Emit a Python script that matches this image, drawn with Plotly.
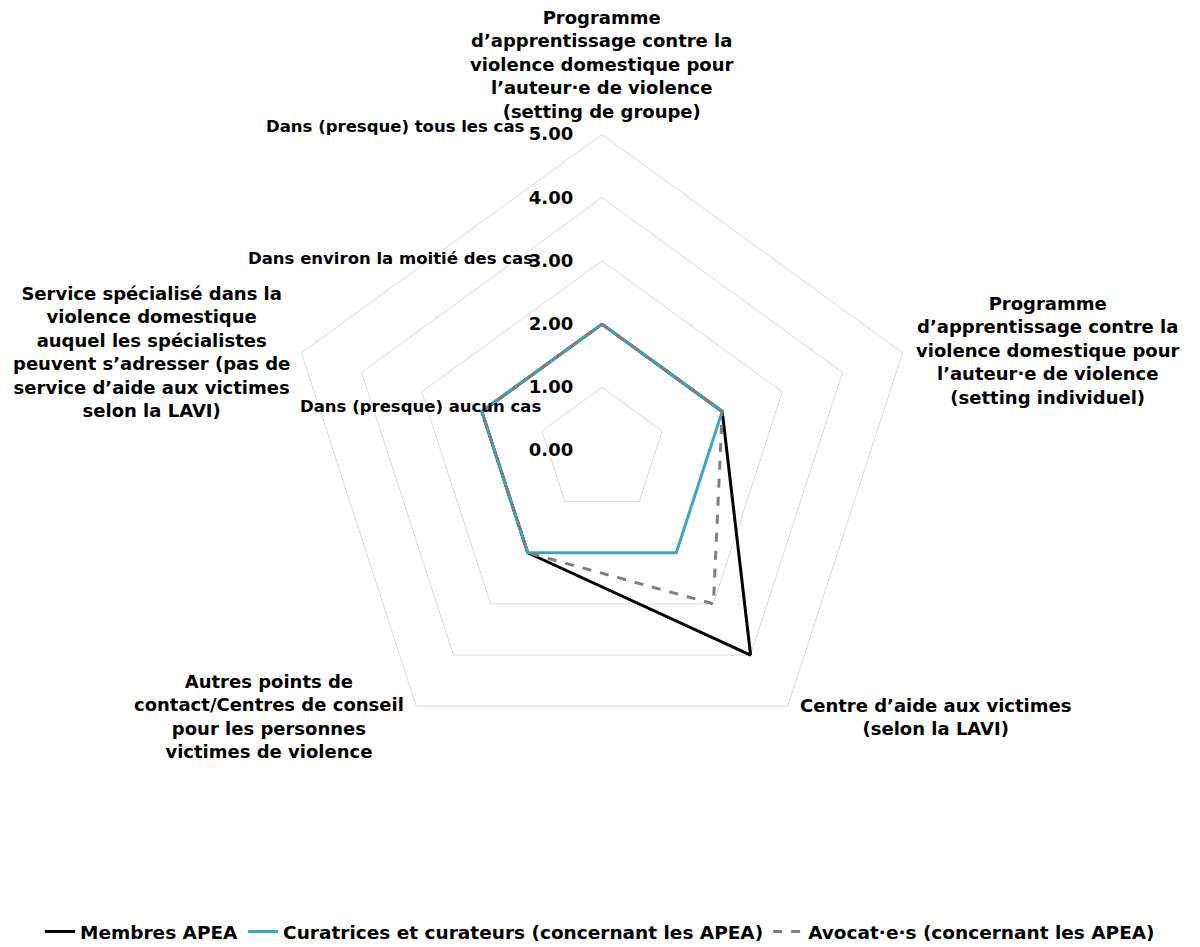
import plotly.graph_objects as go

categories = [
    "Programme<br>d’apprentissage contre la<br>violence domestique pour<br>l’auteur·e de violence<br>(setting de groupe)",
    "Programme<br>d’apprentissage contre la<br>violence domestique pour<br>l’auteur·e de violence<br>(setting individuel)",
    "Centre d’aide aux victimes<br>(selon la LAVI)",
    "Autres points de<br>contact/Centres de conseil<br>pour les personnes<br>victimes de violence",
    "Service spécialisé dans la<br>violence domestique<br>auquel les spécialistes<br>peuvent s’adresser (pas de<br>service d’aide aux victimes<br>selon la LAVI)",
]
membres_apea = [2.0, 2.0, 4.0, 2.0, 2.0]
curatrices = [2.0, 2.0, 2.0, 2.0, 2.0]
avocats = [2.0, 2.0, 3.0, 2.0, 2.0]
series_names = ["Membres APEA", "Curatrices et curateurs (concernant les APEA)", "Avocat·e·s (concernant les APEA)"]
radial_ticks = [0, 1, 2, 3, 4, 5]
scale_labels = ["Dans (presque) tous les cas", "Dans environ la moitié des cas", "Dans (presque) aucun cas"]

W, H = 1200, 947
FONT = "DejaVu Sans"

def closed(v):
    return v + v[:1]

cats_closed = closed(categories)

fig = go.Figure()
fig.add_trace(go.Scatterpolar(r=closed(membres_apea), theta=cats_closed, mode="lines",
                              name=series_names[0], line=dict(color="#000000", width=3)))
fig.add_trace(go.Scatterpolar(r=closed(curatrices), theta=cats_closed, mode="lines",
                              name=series_names[1], line=dict(color="#3aa6c4", width=3)))
fig.add_trace(go.Scatterpolar(r=closed(avocats), theta=cats_closed, mode="lines",
                              name=series_names[2], line=dict(color="#7f7f7f", width=3, dash="dash")))

cx, cy, R = 602, 450.5, 316
dom_x = [(cx - R) / W, (cx + R) / W]
dom_y = [1 - (cy + R) / H, 1 - (cy - R) / H]

fig.update_layout(
    width=W, height=H,
    margin=dict(l=0, r=0, t=0, b=0, autoexpand=False),
    paper_bgcolor="white",
    plot_bgcolor="white",
    font=dict(family=FONT, color="#000000", size=16, weight="bold"),
    polar=dict(
        domain=dict(x=dom_x, y=dom_y),
        bgcolor="white",
        gridshape="linear",
        angularaxis=dict(
            direction="clockwise", rotation=90,
            showgrid=False, showline=True, linecolor="#d9d9d9", linewidth=1,
            ticks="", showticklabels=False,
        ),
        radialaxis=dict(
            range=[0, 5], tickvals=radial_ticks, tickformat=".2f",
            showline=False, showgrid=True, gridcolor="#d9d9d9", gridwidth=1,
            ticks="outside", ticklen=22, tickcolor="rgba(0,0,0,0)",
            angle=90, side="counterclockwise", tickangle=90,
            tickfont=dict(family=FONT, size=18, weight="bold", color="#000000"),
        ),
    ),
    showlegend=True,
    legend=dict(orientation="h", x=0.5, xanchor="center", y=1 - 932 / H, yanchor="middle",
                font=dict(family=FONT, size=18.5, weight="bold", color="#000000"),
                itemwidth=30, tracegroupgap=0),
)

# category labels (centred multi-line text, as in the original)
cat_pos = [(602, 64), (1048, 350.5), (935, 716.5), (269, 716.5), (151, 352.5)]
for txt, (px, py) in zip(categories, cat_pos):
    fig.add_annotation(text=txt, x=px / W, y=1 - py / H, xref="paper", yref="paper",
                       xanchor="center", yanchor="middle", align="center", showarrow=False,
                       font=dict(family=FONT, size=18, weight="bold", color="#000000"))

label_pos = [(527, 126), (535, 258), (543, 406)]
for txt, (px, py) in zip(scale_labels, label_pos):
    fig.add_annotation(text=txt, x=px / W, y=1 - py / H, xref="paper", yref="paper",
                       xanchor="right", yanchor="middle", showarrow=False,
                       font=dict(family=FONT, size=16.5, weight="bold", color="#000000"))

fig.write_html("out.html")
